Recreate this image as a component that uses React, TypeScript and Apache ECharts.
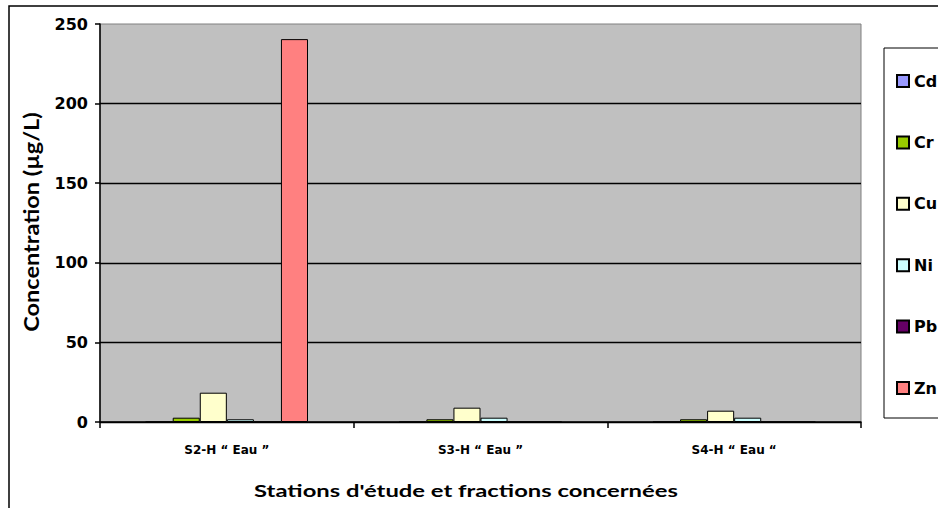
import React, { useEffect, useRef } from "react";
import * as echarts from "echarts";

const categories = ["S2-H \u201c Eau \u201d", "S3-H \u201c Eau \u201d", "S4-H \u201c Eau \u201c"];
const metals = ["Cd", "Cr", "Cu", "Ni", "Pb", "Zn"];
const cd = [0, 0, 0];
const cr = [2.7, 1.7, 1.7];
const cu = [18.4, 9.0, 7.1];
const ni = [1.7, 2.7, 2.7];
const pb = [0, 0, 0];
const zn = [240.5, 0, 0];
const colors = ["#9999FF", "#99CC00", "#FFFFCC", "#CCFFFF", "#660066", "#FF8080"];
const yTicks = [0, 50, 100, 150, 200, 250];

const TITLE_FONT = "Lato, 'Open Sans', sans-serif";
const LABEL_FONT = "'DejaVu Sans', sans-serif";

export default function App() {
  const ref = useRef<HTMLDivElement>(null);
  useEffect(() => {
    if (!ref.current) return;
    const chart = echarts.init(ref.current, undefined, { renderer: "svg" });
    const values = [cd, cr, cu, ni, pb, zn];
    chart.setOption({
      animation: false,
      grid: {
        left: 100,
        top: 24,
        right: 77,
        bottom: 86,
        show: true,
        backgroundColor: "#C0C0C0",
        borderColor: "#808080",
        borderWidth: 1,
      },
      legend: {
        orient: "vertical",
        left: 884,
        top: 48,
        padding: [25, 40, 22, 12],
        itemGap: 45.4,
        itemWidth: 12,
        itemHeight: 12,
        icon: "rect",
        borderColor: "#000",
        borderWidth: 1,
        backgroundColor: "#fff",
        textStyle: { fontFamily: LABEL_FONT, fontWeight: "bold", fontSize: 16, color: "#000", lineHeight: 16 },
        data: metals,
      },
      xAxis: {
        type: "category",
        data: categories,
        axisLine: { lineStyle: { color: "#000", width: 1.5 } },
        axisTick: { show: true, length: 6, lineStyle: { color: "#000", width: 1.5 } },
        axisLabel: { margin: 22, fontFamily: LABEL_FONT, fontWeight: "bold", fontSize: 12, color: "#000" },
      },
      yAxis: {
        type: "value",
        min: 0,
        max: yTicks[yTicks.length - 1],
        interval: 50,
        axisLine: { show: true, lineStyle: { color: "#000", width: 1.5 } },
        axisTick: { show: true, length: 5, lineStyle: { color: "#000", width: 1.5 } },
        axisLabel: { margin: 12, fontFamily: LABEL_FONT, fontWeight: "bold", fontSize: 16, color: "#000" },
        splitLine: { show: true, showMaxLine: false, lineStyle: { color: "#000", width: 1.3 } },
      },
      graphic: [
        {
          type: "rect",
          silent: true,
          z: -10,
          shape: { x: 9, y: 6, width: 1000, height: 1000 },
          style: { fill: "none", stroke: "#000", lineWidth: 1.5 },
        },
        {
          type: "text",
          x: 31,
          y: 222,
          rotation: Math.PI / 2,
          scaleX: 1.12,
          style: {
            text: "Concentration (\u00b5g/L)",
            align: "center",
            verticalAlign: "middle",
            font: `bold 21px ${TITLE_FONT}`,
            fill: "#000",
          },
        },
        {
          type: "text",
          x: 466,
          y: 490,
          scaleX: 1.4,
          style: {
            text: "Stations d'\u00e9tude et fractions concern\u00e9es",
            align: "center",
            verticalAlign: "middle",
            font: `bold 17px ${TITLE_FONT}`,
            fill: "#000",
          },
        },
      ],
      series: metals.map((m, i) => ({
        name: m,
        type: "bar",
        data: values[i],
        barGap: "0%",
        barCategoryGap: "36%",
        itemStyle: { color: colors[i], borderColor: "#000", borderWidth: 1 },
      })),
    });
    return () => chart.dispose();
  }, []);
  return (
    <div
      ref={ref}
      style={{ position: "absolute", left: 0, top: 0, width: 938, height: 508, background: "#fff" }}
    />
  );
}
